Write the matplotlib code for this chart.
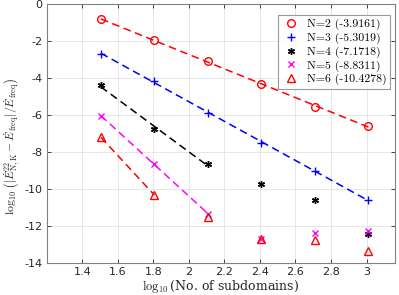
import numpy as np
import matplotlib
matplotlib.use('Agg')
import matplotlib.pyplot as plt

plt.rcParams['mathtext.fontset'] = 'cm'

# log10 of number of subdomains (32 ... 1024)
x = np.log10([32, 64, 128, 256, 512, 1024])

err_n2 = [-0.83, -1.95, -3.10, -4.32, -5.57, -6.61]
err_n3 = [-2.70, -4.16, -5.87, -7.53, -9.01, -10.63]
err_n4 = [-4.40, -6.78, -8.68, -9.75, -10.61, -12.42]
err_n5 = [-6.05, -8.67, -11.35, -12.70, -12.40, -12.29]
err_n6 = [-7.21, -10.34, -11.53, -12.70, -12.76, -13.39]

labels = ['N=2 (-3.9161)', 'N=3 (-5.3019)', 'N=4 (-7.1718)',
          'N=5 (-8.8311)', 'N=6 (-10.4278)']
# number of points used in each fit line
nfit = [6, 6, 3, 3, 2]

series = [err_n2, err_n3, err_n4, err_n5, err_n6]
colors = ['red', 'blue', 'black', 'magenta', 'red']
markers = ['o', '+', (6, 2, 0), 'x', '^']
msizes = [5.5, 5.5, 5, 4.5, 5.5]

fig = plt.figure(figsize=(3.99, 2.95), dpi=100)
ax = fig.add_axes([0.117, 0.1095, 0.873, 0.8765])

for y, c, m, ms, lab, n in zip(series, colors, markers, msizes, labels, nfit):
    y = np.array(y)
    p = np.polyfit(x[:n], y[:n], 1)
    ax.plot(x[:n], np.polyval(p, x[:n]), '--', color=c, lw=1.1, dashes=(5, 3))
    ax.plot(x, y, linestyle='none', marker=m, color=c, ms=ms,
            mfc='none' if m in ('o', '^') else c, mew=1.0, label=lab)

ax.set_xlim(1.2, 3.16)
ax.set_ylim(-14, 0)
ax.set_xticks(np.arange(1.4, 3.01, 0.2))
ax.set_xticklabels(['1.4', '1.6', '1.8', '2', '2.2', '2.4', '2.6', '2.8', '3'])
ax.set_yticks(np.arange(-14, 0.1, 2))
ax.set_yticklabels([str(v) for v in range(-14, 1, 2)])
ax.grid(True, color='#e3e3e3', lw=0.6)
ax.set_axisbelow(True)
ax.tick_params(direction='in', length=3, width=0.6, labelsize=8,
               colors='#262626', top=True, right=True, pad=3)
for s in ax.spines.values():
    s.set_color('#808080')
    s.set_linewidth(0.8)

ax.set_xlabel(r'$\log_{10}$(No. of subdomains)', family='serif',
              fontsize=9, labelpad=1, color='#262626')
ax.set_ylabel(r'$\log_{10}\left(|\dot{E}^{22}_{\mathrm{N,K}}-\dot{E}_{\mathrm{freq}}|/\dot{E}_{\mathrm{freq}}\right)$',
              fontsize=8.5, color='#262626')
ax.yaxis.set_label_coords(-0.07, 0.45)

leg = ax.legend(loc='upper right', bbox_to_anchor=(0.995, 0.97),
                prop={'family': 'cmr10', 'size': 8.5},
                frameon=True, fancybox=False, edgecolor='#808080',
                handlelength=1.5, handletextpad=0.6, borderpad=0.3,
                labelspacing=0.2, borderaxespad=0.3)
leg.get_frame().set_linewidth(0.8)

fig.savefig('out.png', dpi=100)
